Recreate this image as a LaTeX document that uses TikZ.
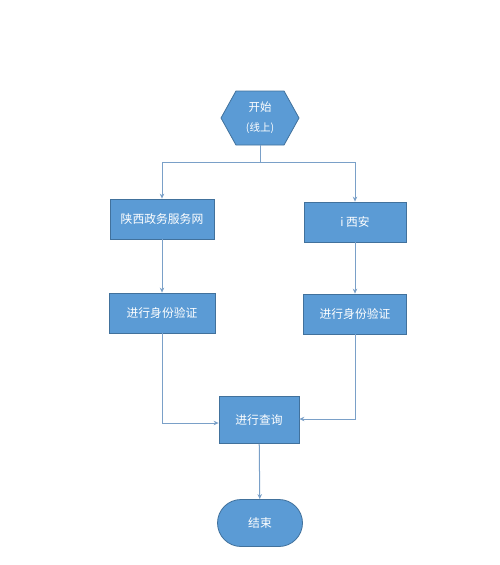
\documentclass[tikz,border=0pt]{standalone}
\usepackage{fontspec}
\setmainfont{Noto Sans CJK SC}
\usetikzlibrary{arrows.meta,shapes.symbols,shapes.misc}
\definecolor{boxblue}{RGB}{91,155,213}
\definecolor{boxedge}{RGB}{65,113,156}
\definecolor{wire}{RGB}{122,160,200}
\tikzset{
  >={Stealth[length=5pt,width=4.5pt]},
  stepbox/.style={draw=boxedge,fill=boxblue,text=white,line width=0.8pt,
    minimum width=#1,minimum height=40,font=\fontsize{11.8}{14}\selectfont,inner sep=0pt},
  stepbox/.default=104,
  hexa/.style={signal,signal to=east and west,signal pointer angle=122,
    draw=boxedge,fill=boxblue,text=white,line width=0.8pt,
    minimum width=78,minimum height=54,inner sep=0pt,align=center,
    font=\fontsize{11.5}{13}\selectfont},
  stopbox/.style={rounded rectangle,draw=boxedge,fill=boxblue,text=white,line width=0.8pt,
    minimum width=85,minimum height=47,inner sep=0pt,font=\fontsize{11.8}{14}\selectfont},
  link/.style={draw=wire,line width=1pt},
}
\begin{document}
\begin{tikzpicture}[x=1pt,y=-1pt]
  \useasboundingbox[fill=white] (0,0) rectangle (500,565);
  % nodes
  \node[hexa] (start) at (260,118) {开始\\[7pt]\fontsize{10.5}{12}\selectfont(线上)};
  \node[stepbox] (portal) at (162,219) {陕西政务服务网};
  \node[stepbox=102] (ixian) at (355,222) {i 西安};
  \node[stepbox=106] (authl) at (162,313) {进行身份验证};
  \node[stepbox=103] (authr) at (355,314) {进行身份验证};
  \node[stepbox=80,minimum height=47] (query) at (259,420) {进行查询};
  \node[stopbox] (stop) at (260,523) {结束};
  % connectors
  \coordinate (split) at (260,162);
  \draw[link] (start.south) -- (split);
  \draw[link,->] (split) -| (portal.north);
  \draw[link,->] (split) -| (ixian.north);
  \draw[link,->] (portal) -- (authl);
  \draw[link,->] (ixian) -- (authr);
  \draw[link,->] (authl.south) |- ([yshift=-3]query.west);
  \draw[link,->] (authr.south) |- ([yshift=1]query.east);
  \draw[link,->] (query) -- (stop);
\end{tikzpicture}
\end{document}
